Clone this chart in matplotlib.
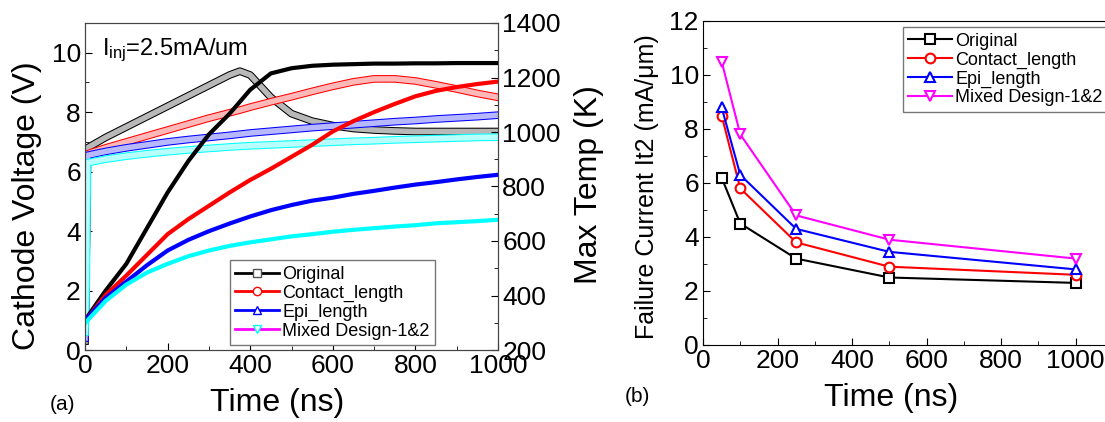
import matplotlib
matplotlib.use("Agg")
import matplotlib.pyplot as plt
import matplotlib.patheffects as pe
from matplotlib.lines import Line2D
from matplotlib.ticker import MultipleLocator

plt.rcParams['font.family'] = ['Liberation Sans', 'DejaVu Sans']
plt.rcParams['mathtext.fontset'] = 'custom'
plt.rcParams['mathtext.rm'] = 'Liberation Sans'
plt.rcParams['mathtext.it'] = 'Liberation Sans'

# ===============================
# DATA (a): transient simulation
# ===============================
series_names = ["Original", "Contact_length", "Epi_length", "Mixed Design-1&2"]

# time grid for the voltage curves (ns)
t_volt = [0, 3, 6, 50, 100, 150, 200, 250, 300, 350, 375, 400, 450, 500,
          550, 600, 650, 700, 750, 800, 850, 900, 950, 1000]
volt_original = [0.3, 3.5, 6.8, 7.15, 7.5, 7.85, 8.2, 8.55, 8.9, 9.25, 9.38, 9.25, 8.5, 7.95,
                 7.7, 7.55, 7.45, 7.4, 7.37, 7.35, 7.35, 7.35, 7.35, 7.35]
volt_contact = [0.5, 3.2, 6.6, 6.8, 7.0, 7.2, 7.4, 7.6, 7.8, 7.98, 8.07, 8.17, 8.35, 8.52,
                8.7, 8.87, 9.02, 9.12, 9.12, 9.05, 8.92, 8.78, 8.63, 8.5]
volt_epi = [0.4, 3.8, 6.55, 6.68, 6.8, 6.9, 7.0, 7.08, 7.15, 7.22, 7.26, 7.3, 7.36, 7.42,
            7.48, 7.53, 7.58, 7.63, 7.68, 7.72, 7.77, 7.81, 7.85, 7.9]
volt_mixed = [0.6, 2.2, 6.3, 6.42, 6.52, 6.6, 6.67, 6.73, 6.78, 6.83, 6.85, 6.87, 6.9, 6.93,
              6.96, 6.99, 7.02, 7.04, 7.07, 7.09, 7.11, 7.13, 7.15, 7.16]

# time grid for the max temperature curves (ns)
t_temp = [0, 10, 50, 100, 150, 200, 250, 300, 350, 400, 450, 500,
          550, 600, 650, 700, 750, 800, 850, 900, 950, 1000]
temp_original = [309, 331, 418, 516, 647, 778, 893, 991, 1067, 1155, 1215, 1234,
                 1243, 1247, 1249, 1251, 1251, 1252, 1252, 1253, 1253, 1253]
temp_contact = [309, 325, 402, 473, 549, 625, 680, 729, 778, 824, 865, 909,
                953, 1002, 1040, 1073, 1103, 1131, 1151, 1165, 1176, 1185]
temp_epi = [309, 325, 391, 451, 511, 565, 604, 636, 664, 690, 713, 732,
            748, 759, 773, 784, 796, 807, 816, 826, 835, 843]
temp_mixed = [298, 315, 380, 440, 484, 516, 544, 565, 582, 595, 606, 617,
              625, 634, 641, 647, 653, 658, 665, 669, 673, 678]

# ===============================
# DATA (b): failure current
# ===============================
t_pulse = [50, 100, 250, 500, 1000]
it2_original = [6.2, 4.5, 3.2, 2.5, 2.3]
it2_contact = [8.5, 5.8, 3.8, 2.9, 2.6]
it2_epi = [8.8, 6.3, 4.3, 3.45, 2.8]
it2_mixed = [10.5, 7.8, 4.8, 3.9, 3.2]

line_colors = ["black", "red", "blue", "magenta"]
band_colors = ["black", "red", "blue", "cyan"]
band_fill = ["#b8b8b8", "#ffb8b8", "#b8b8ff", "#b8ffff"]
temp_colors = ["black", "red", "blue", "cyan"]
markers_a = ["s", "o", "^", "v"]

volts = [volt_original, volt_contact, volt_epi, volt_mixed]
temps = [temp_original, temp_contact, temp_epi, temp_mixed]
it2s = [it2_original, it2_contact, it2_epi, it2_mixed]

fig = plt.figure(figsize=(11.05, 4.22), dpi=100)

# ===============================
# PANEL (a)
# ===============================
ax = fig.add_axes([85 / 1105, 1 - 350 / 422, 413 / 1105, 327 / 422])
ax2 = ax.twinx()

for v, c, f in zip(volts, band_colors, band_fill):
    ax.plot(t_volt, v, color=f, lw=4, solid_joinstyle="round",
            path_effects=[pe.Stroke(linewidth=5.5, foreground=c), pe.Normal()])

for tt, c in zip(temps, temp_colors):
    ax2.plot(t_temp, tt, color=c, lw=3, solid_joinstyle="round")

ax.set_xlim(0, 1000)
ax.set_ylim(0, 11)
ax2.set_ylim(200, 1400)
ax.xaxis.set_major_locator(MultipleLocator(200))
ax.xaxis.set_minor_locator(MultipleLocator(100))
ax.yaxis.set_major_locator(MultipleLocator(2))
ax.yaxis.set_minor_locator(MultipleLocator(1))
ax2.yaxis.set_major_locator(MultipleLocator(200))
ax2.yaxis.set_minor_locator(MultipleLocator(100))

for a in (ax, ax2):
    a.tick_params(which="both", direction="in", labelsize=19, pad=3)
    a.tick_params(which="major", length=5)
    a.tick_params(which="minor", length=3)
    for s in a.spines.values():
        s.set_color("#444444")

ax.set_xlabel("Time (ns)", fontsize=23)
ax.xaxis.set_label_coords(0.465, -0.162)
ax.xaxis.label.set_va("center")
ax.set_ylabel("Cathode Voltage (V)", fontsize=23)
ax.yaxis.set_label_coords(-0.14, 0.44)
ax.yaxis.label.set_va("center")
ax2.set_ylabel("Max Temp (K)", fontsize=23)
ax2.yaxis.set_label_coords(1.22, 0.505)
ax2.yaxis.label.set_va("center")

ax.text(0.04, 0.915, r"I$_{\rm inj}$=2.5mA/um", transform=ax.transAxes,
        fontsize=17, va="center", ha="left")

handles_a = [Line2D([], [], color=lc, lw=2, marker=m, ms=6, mfc="white", mec=bc)
             for lc, bc, m in zip(line_colors, band_colors, markers_a)]
handles_a[0].set_markeredgecolor("#555555")
leg = ax.legend(handles_a, series_names, loc="lower left",
                bbox_to_anchor=(0.351, 0.015), borderaxespad=0, fontsize=13,
                handlelength=2.4, handletextpad=0.2, labelspacing=0.1,
                borderpad=0.3, fancybox=False, framealpha=1, edgecolor="#777777")
leg.get_frame().set_linewidth(1)

fig.text(50 / 1105, 1 - 405 / 422, "(a)", fontsize=15, va="center", ha="left")

# ===============================
# PANEL (b)
# ===============================
bx = fig.add_axes([703 / 1105, 1 - 345 / 422, 410 / 1105, 324 / 422])
for y, c, m in zip(it2s, line_colors, markers_a):
    bx.plot(t_pulse, y, color=c, lw=1.5, marker=m, ms=7, mfc="white",
            mec=c, mew=1.5)

bx.set_xlim(0, 1100)
bx.set_ylim(0, 12)
bx.xaxis.set_major_locator(MultipleLocator(200))
bx.xaxis.set_minor_locator(MultipleLocator(100))
bx.yaxis.set_major_locator(MultipleLocator(2))
bx.yaxis.set_minor_locator(MultipleLocator(1))
bx.tick_params(which="both", direction="in", labelsize=19, pad=3)
bx.tick_params(which="major", length=5)
bx.tick_params(which="minor", length=3)
bx.spines["right"].set_visible(False)

bx.set_xlabel("Time (ns)", fontsize=23)
bx.xaxis.set_label_coords(0.459, -0.164)
bx.xaxis.label.set_va("center")
bx.set_ylabel("Failure Current It2 (mA/\u03bcm)", fontsize=18)
bx.yaxis.set_label_coords(-0.137, 0.49)
bx.yaxis.label.set_va("center")

leg2 = bx.legend(series_names, loc="upper left", bbox_to_anchor=(0.488, 0.981),
                 borderaxespad=0, fontsize=13, handlelength=2.4,
                 handletextpad=0.2, labelspacing=0.1, borderpad=0.3,
                 fancybox=False, framealpha=1, edgecolor="#777777")
leg2.get_frame().set_linewidth(1)

fig.text(625 / 1105, 1 - 397 / 422, "(b)", fontsize=15, va="center", ha="left")

fig.savefig("out.png", dpi=100)
